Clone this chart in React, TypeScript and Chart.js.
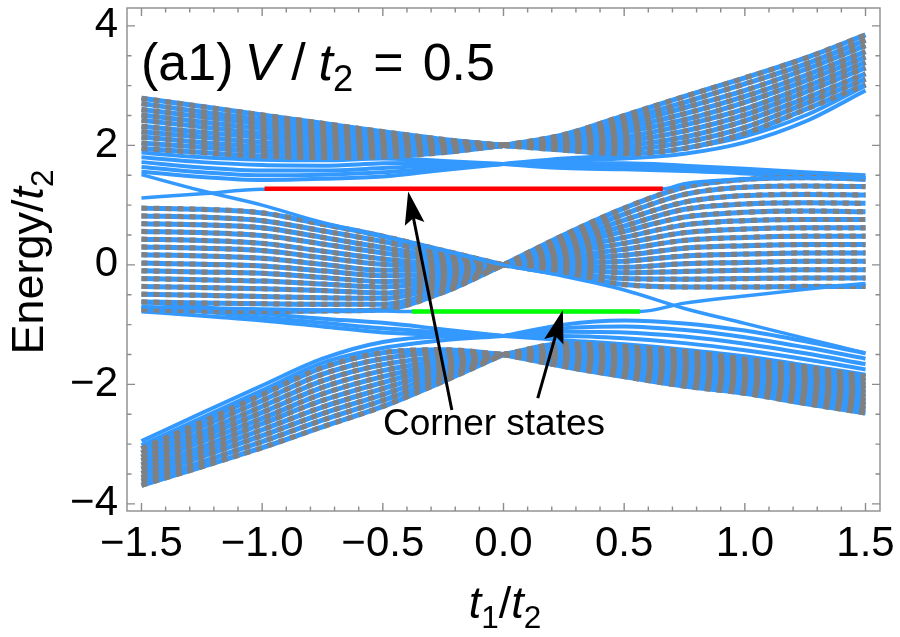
import React, { useEffect, useRef } from "react";
import { Chart, registerables } from "chart.js";
Chart.register(...registerables);

// ---------- data ----------
const tGrid = [-1.5, -1.25, -1, -0.75, -0.5, -0.25, 0, 0.25, 0.5, 0.75, 1, 1.25, 1.5];

// upper bulk band (converges at t1=0, E=2.0)
const topBulk: number[][] = [
  [2.79, 2.65, 2.51, 2.37, 2.23, 2.10, 2.00, 2.18, 2.50, 2.82, 3.13, 3.46, 3.85],
  [2.70, 2.56, 2.43, 2.31, 2.18, 2.08, 2.00, 2.15, 2.43, 2.72, 3.03, 3.36, 3.76],
  [2.60, 2.48, 2.36, 2.24, 2.14, 2.05, 2.00, 2.12, 2.36, 2.63, 2.92, 3.27, 3.67],
  [2.51, 2.39, 2.28, 2.18, 2.09, 2.03, 2.00, 2.09, 2.29, 2.53, 2.82, 3.17, 3.57],
  [2.42, 2.31, 2.20, 2.12, 2.04, 2.00, 2.00, 2.06, 2.22, 2.43, 2.72, 3.08, 3.48],
  [2.32, 2.22, 2.13, 2.05, 2.00, 1.98, 2.00, 2.04, 2.14, 2.34, 2.61, 2.98, 3.39],
  [2.23, 2.14, 2.05, 1.99, 1.95, 1.95, 2.00, 2.01, 2.07, 2.24, 2.51, 2.89, 3.30],
  [2.14, 2.05, 1.97, 1.93, 1.90, 1.93, 2.00, 1.98, 2.00, 2.14, 2.41, 2.79, 3.20],
  [2.04, 1.97, 1.90, 1.86, 1.86, 1.90, 2.00, 1.95, 1.93, 2.05, 2.30, 2.70, 3.11],
  [1.95, 1.88, 1.82, 1.80, 1.81, 1.88, 2.00, 1.92, 1.86, 1.95, 2.20, 2.60, 3.02],
];

// upper edge-like lines (converge at t1=0, E=1.69)
const topEdge: number[][] = [
  [1.88, 1.80, 1.76, 1.75, 1.78, 1.74, 1.69, 1.78, 1.84, 1.95, 2.15, 2.50, 3.00],
  [1.80, 1.72, 1.67, 1.66, 1.70, 1.71, 1.69, 1.74, 1.78, 1.86, 2.05, 2.40, 2.92],
  [1.72, 1.63, 1.58, 1.58, 1.62, 1.67, 1.69, 1.70, 1.70, 1.66, 1.61, 1.55, 1.50],
  [1.64, 1.55, 1.50, 1.51, 1.55, 1.63, 1.69, 1.66, 1.65, 1.62, 1.57, 1.51, 1.46],
  [1.56, 1.47, 1.42, 1.44, 1.48, 1.59, 1.69, 1.62, 1.60, 1.57, 1.53, 1.47, 1.42],
];

// middle bulk band (crossing at t1=0, E=0)
const midBulk: number[][] = [
  [0.95, 0.93, 0.87, 0.68, 0.48, 0.24, 0, 0.50, 0.95, 1.30, 1.43, 1.46, 1.45],
  [0.82, 0.80, 0.74, 0.57, 0.39, 0.19, 0, 0.45, 0.85, 1.18, 1.30, 1.32, 1.31],
  [0.69, 0.67, 0.62, 0.46, 0.29, 0.13, 0, 0.40, 0.75, 1.05, 1.16, 1.18, 1.17],
  [0.56, 0.54, 0.49, 0.35, 0.20, 0.08, 0, 0.35, 0.65, 0.93, 1.02, 1.04, 1.03],
  [0.43, 0.41, 0.36, 0.23, 0.10, 0.02, 0, 0.30, 0.56, 0.80, 0.88, 0.90, 0.89],
  [0.30, 0.28, 0.24, 0.12, 0.01, -0.03, 0, 0.25, 0.46, 0.67, 0.74, 0.76, 0.76],
  [0.17, 0.15, 0.11, 0.01, -0.09, -0.08, 0, 0.20, 0.36, 0.54, 0.60, 0.62, 0.62],
  [0.03, 0.01, -0.02, -0.10, -0.18, -0.14, 0, 0.14, 0.26, 0.41, 0.46, 0.48, 0.48],
  [-0.10, -0.12, -0.14, -0.21, -0.28, -0.19, 0, 0.09, 0.16, 0.28, 0.32, 0.34, 0.34],
  [-0.23, -0.25, -0.27, -0.32, -0.37, -0.25, 0, 0.04, 0.06, 0.15, 0.18, 0.20, 0.20],
  [-0.36, -0.38, -0.40, -0.43, -0.47, -0.30, 0, -0.01, -0.04, 0.02, 0.04, 0.06, 0.06],
  [-0.49, -0.51, -0.53, -0.55, -0.56, -0.35, 0, -0.06, -0.13, -0.11, -0.09, -0.08, -0.08],
  [-0.62, -0.64, -0.65, -0.66, -0.66, -0.41, 0, -0.11, -0.23, -0.24, -0.23, -0.22, -0.22],
  [-0.75, -0.77, -0.78, -0.77, -0.75, -0.46, 0, -0.16, -0.33, -0.37, -0.37, -0.36, -0.36],
];

// lower edge-like lines (converge at t1=0, E=-1.19)
const lowEdge: number[][] = [
  [-0.62, -0.70, -0.82, -0.90, -0.97, -1.08, -1.19, -1.00, -0.93, -0.98, -1.10, -1.28, -1.48],
  [-0.70, -0.78, -0.88, -0.97, -1.06, -1.13, -1.19, -1.06, -1.03, -1.09, -1.21, -1.38, -1.57],
  [-0.78, -0.85, -0.93, -1.03, -1.13, -1.17, -1.19, -1.12, -1.13, -1.20, -1.32, -1.48, -1.66],
  [-2.95, -2.48, -2.02, -1.57, -1.29, -1.20, -1.19, -1.19, -1.23, -1.31, -1.43, -1.58, -1.75],
  [-3.02, -2.56, -2.10, -1.64, -1.39, -1.26, -1.19, -1.26, -1.33, -1.42, -1.53, -1.68, -1.84],
];

// lower bulk band (converges at t1=0, E=-1.5)
const bottomBulk: number[][] = [
  [-3.08, -2.63, -2.17, -1.72, -1.47, -1.42, -1.5, -1.32, -1.37, -1.45, -1.58, -1.71, -1.87],
  [-3.15, -2.71, -2.27, -1.83, -1.57, -1.48, -1.5, -1.36, -1.43, -1.51, -1.64, -1.78, -1.94],
  [-3.22, -2.80, -2.37, -1.94, -1.67, -1.54, -1.5, -1.40, -1.48, -1.58, -1.71, -1.85, -2.01],
  [-3.28, -2.88, -2.47, -2.05, -1.77, -1.60, -1.5, -1.45, -1.54, -1.64, -1.77, -1.91, -2.07],
  [-3.35, -2.96, -2.57, -2.16, -1.87, -1.66, -1.5, -1.49, -1.59, -1.71, -1.83, -1.98, -2.14],
  [-3.42, -3.05, -2.66, -2.27, -1.97, -1.71, -1.5, -1.53, -1.65, -1.77, -1.90, -2.05, -2.21],
  [-3.49, -3.13, -2.76, -2.38, -2.07, -1.77, -1.5, -1.57, -1.70, -1.84, -1.96, -2.12, -2.28],
  [-3.56, -3.21, -2.86, -2.49, -2.17, -1.83, -1.5, -1.62, -1.76, -1.90, -2.02, -2.18, -2.34],
  [-3.62, -3.30, -2.96, -2.60, -2.27, -1.89, -1.5, -1.66, -1.81, -1.97, -2.09, -2.25, -2.41],
  [-3.69, -3.38, -3.06, -2.71, -2.37, -1.95, -1.5, -1.70, -1.87, -2.03, -2.15, -2.32, -2.48],
];

// single edge-state lines
const edgeFallE = [1.51, 1.24, 1.00, 0.71, 0.48, 0.24, 0, -0.19, -0.42, -0.73, -0.98, -1.23, -1.48];
const edgeRiseX = [-1.5, -1.25, -1.0, 0.66, 0.75, 1.0, 1.25, 1.5];
const edgeRiseE = [1.12, 1.19, 1.265, 1.273, 1.36, 1.44, 1.46, 1.46];
const edgeLowX = [-1.5, -1.0, -0.5, -0.38, 0.565, 0.75, 1.0, 1.25, 1.5];
const edgeLowE = [-0.70, -0.74, -0.77, -0.78, -0.78, -0.64, -0.52, -0.41, -0.31];

// corner states
const cornerRedX = [-0.99, 0.66];
const cornerRedE = [1.273, 1.273];
const cornerGreenX = [-0.38, 0.565];
const cornerGreenE = [-0.78, -0.78];

// annotation arrows (tail -> tip), in data units
const arrowTailX = [-0.214, 0.142];
const arrowTailE = [-2.43, -2.23];
const arrowTipX = [-0.395, 0.246];
const arrowTipE = [1.228, -0.754];

// axis ranges and ticks
const xRange = [-1.56, 1.56];
const yRange = [-4.12, 4.3];
const xMajorStep = 0.5;
const yMajorStep = 2;

// ---------- styles ----------
const BLUE = "#3399ff";
const GRAY = "#808080";
const FRAME = "#8c8c8c";
const FONT = "'Liberation Sans', Arial, sans-serif";

const pts = (xs: number[], ys: number[]) => xs.map((x, i) => ({ x, y: ys[i] }));

function lineDs(xs: number[], ys: number[], color: string, width: number, order: number, dash?: number[]) {
  return {
    data: pts(xs, ys),
    borderColor: color,
    borderWidth: width,
    borderDash: dash || [],
    pointRadius: 0,
    cubicInterpolationMode: "monotone",
    fill: false,
    order,
  };
}

type Run = { t: string; it?: boolean; sub?: boolean; gap?: number };

function drawRuns(ctx: CanvasRenderingContext2D, runs: Run[], x: number, y: number, size: number, measureOnly = false) {
  let cx = x;
  for (const r of runs) {
    if (r.gap) cx += r.gap;
    const s = r.sub ? size * 0.7 : size;
    ctx.font = `${r.it ? "italic " : ""}${s}px ${FONT}`;
    if (!measureOnly) ctx.fillText(r.t, cx, r.sub ? y + size * 0.22 : y);
    cx += ctx.measureText(r.t).width;
  }
  return cx - x;
}

const decorPlugin = {
  id: "decor",
  afterDatasetsDraw(chart: any) {
    const { ctx, chartArea: a, scales } = chart;
    const xs = scales.x;
    const ys = scales.y;
    ctx.save();
    // frame
    ctx.strokeStyle = FRAME;
    ctx.lineWidth = 1.4;
    ctx.strokeRect(a.left, a.top, a.right - a.left, a.bottom - a.top);
    ctx.beginPath();
    for (let k = -15; k <= 15; k++) {
      const px = xs.getPixelForValue(k / 10);
      const len = k % 5 === 0 ? 8 : 4.5;
      ctx.moveTo(px, a.bottom);
      ctx.lineTo(px, a.bottom - len);
      ctx.moveTo(px, a.top);
      ctx.lineTo(px, a.top + len);
    }
    for (let k = -8; k <= 8; k++) {
      const v = k / 2;
      const py = ys.getPixelForValue(v);
      const len = k % 4 === 0 ? 8 : 4.5;
      ctx.moveTo(a.left, py);
      ctx.lineTo(a.left + len, py);
      ctx.moveTo(a.right, py);
      ctx.lineTo(a.right - len, py);
    }
    ctx.stroke();

    // arrows
    ctx.strokeStyle = "#000";
    ctx.fillStyle = "#000";
    for (let i = 0; i < arrowTipX.length; i++) {
      const x0 = xs.getPixelForValue(arrowTailX[i]);
      const y0 = ys.getPixelForValue(arrowTailE[i]);
      const x1 = xs.getPixelForValue(arrowTipX[i]);
      const y1 = ys.getPixelForValue(arrowTipE[i]);
      const ang = Math.atan2(y1 - y0, x1 - x0);
      const hl = 33, hw = 10;
      const bx = x1 - hl * Math.cos(ang);
      const by = y1 - hl * Math.sin(ang);
      ctx.lineWidth = 3;
      ctx.beginPath();
      ctx.moveTo(x0, y0);
      ctx.lineTo(bx + 6 * Math.cos(ang), by + 6 * Math.sin(ang));
      ctx.stroke();
      ctx.beginPath();
      ctx.moveTo(x1, y1);
      ctx.lineTo(bx - hw * Math.sin(ang), by + hw * Math.cos(ang));
      ctx.lineTo(bx + 6 * Math.cos(ang), by + 6 * Math.sin(ang));
      ctx.lineTo(bx + hw * Math.sin(ang), by - hw * Math.cos(ang));
      ctx.closePath();
      ctx.fill();
    }

    // annotation text
    ctx.fillStyle = "#000";
    ctx.textBaseline = "alphabetic";
    ctx.textAlign = "center";
    ctx.font = `37px ${FONT}`;
    ctx.fillText("Corner states", 494, 435);

    ctx.textAlign = "left";
    // panel label
    const title: Run[] = [
      { t: "(a1)" },
      { t: "V", it: true, gap: 11 },
      { t: "/", gap: 12 },
      { t: "t", it: true, gap: 13 },
      { t: "2", sub: true },
      { t: "=", gap: 20 },
      { t: "0.5", gap: 19 },
    ];
    drawRuns(ctx, title, 141, 80, 52);

    // x axis title
    const xt: Run[] = [{ t: "t", it: true }, { t: "1", sub: true }, { t: "/" }, { t: "t", it: true }, { t: "2", sub: true }];
    const wx = drawRuns(ctx, xt, 0, 0, 45, true);
    drawRuns(ctx, xt, 505 - wx / 2, 618, 45);

    // y axis title
    const yt: Run[] = [{ t: "Energy/" }, { t: "t", it: true }, { t: "2", sub: true }];
    const wy = drawRuns(ctx, yt, 0, 0, 45, true);
    ctx.translate(43, 262);
    ctx.rotate(-Math.PI / 2);
    drawRuns(ctx, yt, -wy / 2, 0, 45);
    ctx.restore();
  },
};

export default function App() {
  const ref = useRef<HTMLCanvasElement>(null);
  useEffect(() => {
    if (!ref.current) return;
    const datasets: any[] = [];
    const leftX = tGrid.slice(0, 7);
    const rightX = tGrid.slice(6);
    const addBand = (band: number[][], striped: boolean) => {
      for (const ys of band) {
        const halves: [number[], number[]][] = [
          [leftX, ys.slice(0, 7)],
          [rightX, ys.slice(6)],
        ];
        for (const [hx, hy] of halves) {
          datasets.push(lineDs(hx, hy, BLUE, striped ? 5 : 4, 4));
          if (striped) datasets.push(lineDs(hx, hy, GRAY, 5.2, 3, [6, 6]));
        }
      }
    };
    addBand(topBulk, true);
    addBand(topEdge, false);
    addBand(midBulk, true);
    addBand(lowEdge, false);
    addBand(bottomBulk, true);
    datasets.push(lineDs(tGrid, edgeFallE, BLUE, 3.5, 2));
    datasets.push(lineDs(edgeRiseX, edgeRiseE, BLUE, 3.5, 2));
    datasets.push(lineDs(edgeLowX, edgeLowE, BLUE, 3.5, 2));
    datasets.push(lineDs(cornerRedX, cornerRedE, "#ff0000", 4.5, 0));
    datasets.push(lineDs(cornerGreenX, cornerGreenE, "#00ff00", 4.5, 0));

    const fmtX = (v: any) => Number(v).toFixed(1).replace("-", "\u2212");
    const fmtY = (v: any) => String(Number(v)).replace("-", "\u2212");

    const chart = new Chart(ref.current, {
      type: "line",
      data: { datasets },
      options: {
        animation: false,
        responsive: false,
        devicePixelRatio: 1,
        layout: { padding: { left: 0, right: 20, top: 8, bottom: 0 } },
        plugins: { legend: { display: false }, tooltip: { enabled: false } },
        scales: {
          x: {
            type: "linear",
            min: xRange[0],
            max: xRange[1],
            grid: { display: false, drawTicks: false },
            border: { display: false },
            ticks: {
              stepSize: xMajorStep,
              includeBounds: false,
              autoSkip: false,
              maxRotation: 0,
              padding: 8,
              color: "#000",
              font: { size: 42, family: FONT },
              callback: fmtX,
            },
            afterFit: (s: any) => {
              s.height = 126;
              s.paddingLeft = 0;
              s.paddingRight = 0;
            },
          },
          y: {
            type: "linear",
            min: yRange[0],
            max: yRange[1],
            grid: { display: false, drawTicks: false },
            border: { display: false },
            ticks: {
              stepSize: yMajorStep,
              includeBounds: false,
              autoSkip: false,
              padding: 9,
              color: "#000",
              font: { size: 42, family: FONT },
              callback: fmtY,
            },
            afterFit: (s: any) => {
              s.width = 127;
              s.paddingTop = 0;
              s.paddingBottom = 0;
            },
          },
        },
      } as any,
      plugins: [decorPlugin as any],
    });
    return () => chart.destroy();
  }, []);
  return (
    <div style={{ position: "absolute", left: 0, top: 0, width: 900, height: 637, background: "#fff" }}>
      <canvas ref={ref} width={900} height={637} />
    </div>
  );
}
